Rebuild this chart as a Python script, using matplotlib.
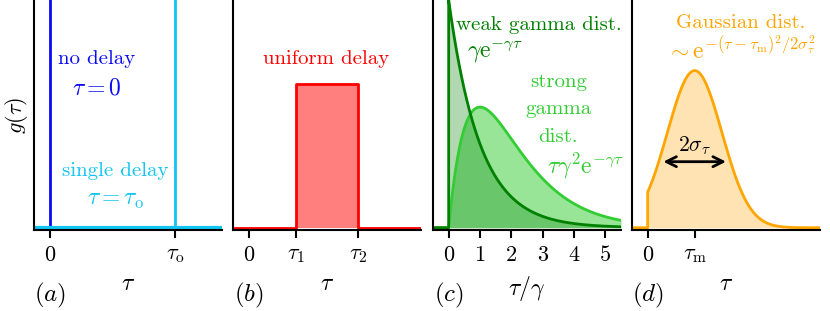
import numpy as np
import matplotlib.pyplot as plt

plt.rcParams['font.family'] = 'cmr10'
plt.rcParams['mathtext.fontset'] = 'cm'
plt.rcParams['axes.formatter.use_mathtext'] = True
plt.rcParams['font.size'] = 15

# x range shared by all panels (units of the tick spacing)
x_lo, x_hi = -0.5, 5.5

# (a) no delay / single delay
tau_o = 4.0
ticks_a = [0, tau_o]
ticklabels_a = ['$0$', r'$\tau_\mathrm{o}$']

# (b) uniform delay
tau_1, tau_2 = 1.5, 3.5
uniform_height = 0.63
ticks_b = [0, tau_1, tau_2]
ticklabels_b = ['$0$', r'$\tau_1$', r'$\tau_2$']

# (c) gamma distributions (curves follow the labelled formulas)
weak_scale = 1.0
strong_scale = 1.44
ticks_c = [0, 1, 2, 3, 4, 5]

# (d) gaussian
tau_m = 1.5
gauss_peak = 0.69
gauss_sigma = 0.87
arrow_half = 1.0
arrow_y = 0.29
ticks_d = [0, tau_m]
ticklabels_d = ['$0$', r'$\tau_\mathrm{m}$']

c_blue = '#0a0af5'
c_sky = '#10c4f4'
c_red = '#ff0000'
c_dgreen = '#008000'
c_lgreen = '#32cd32'
c_orange = '#ffa500'

MS = 17  # size for math text

fig = plt.figure(figsize=(8.3, 3.11), dpi=100)
lefts = [34, 233, 433, 632]
axes = [fig.add_axes([l / 830, 1 - 230 / 311, 188 / 830, 230 / 311]) for l in lefts]

for ax in axes:
    ax.set_xlim(x_lo, x_hi)
    ax.set_ylim(-0.01, 1.0)
    ax.set_yticks([])
    for s in ['top', 'right']:
        ax.spines[s].set_visible(False)
    for s in ['left', 'bottom']:
        ax.spines[s].set_linewidth(1.5)
    ax.tick_params(axis='x', direction='out', length=6, width=1.5, pad=5, labelsize=16)

lw = 2.0

# (a)
ax = axes[0]
ax.axvline(0, color=c_blue, lw=lw)
ax.axvline(tau_o, color=c_sky, lw=lw)
ax.plot([x_lo, x_hi], [0, 0], color=c_sky, lw=3)
ax.set_xticks(ticks_a)
ax.set_xticklabels(ticklabels_a)
ax.set_ylabel(r'$g(\tau)$', labelpad=3, fontsize=16)
ax.text(1.5, 0.74, 'no delay', color=c_blue, ha='center', va='center')
ax.text(1.5, 0.61, r'$\tau=0$', color=c_blue, ha='center', va='center', fontsize=MS)
ax.text(2.1, 0.25, 'single delay', color=c_sky, ha='center', va='center')
ax.text(2.1, 0.12, r'$\tau=\tau_\mathrm{o}$', color=c_sky, ha='center', va='center', fontsize=MS)

# (b)
ax = axes[1]
xb = [x_lo, tau_1, tau_1, tau_2, tau_2, x_hi]
yb = [0, 0, uniform_height, uniform_height, 0, 0]
ax.fill_between([tau_1, tau_2], 0, uniform_height, color=c_red, alpha=0.5, lw=0)
ax.plot(xb, yb, color=c_red, lw=lw)
ax.set_xticks(ticks_b)
ax.set_xticklabels(ticklabels_b)
ax.text(2.47, 0.74, 'uniform delay', color=c_red, ha='center', va='center')

# (c)
ax = axes[2]
xc = np.linspace(0, x_hi, 400)
weak = weak_scale * np.exp(-xc)
strong = strong_scale * xc * np.exp(-xc)
ax.fill_between(xc, 0, strong, color=c_lgreen, alpha=0.5, lw=0)
ax.fill_between(xc, 0, weak, color=c_dgreen, alpha=0.3, lw=0)
ax.plot(np.r_[x_lo, 0, xc], np.r_[0, 0, strong], color=c_lgreen, lw=lw)
ax.plot(np.r_[x_lo, 0, xc], np.r_[0, 0, weak], color=c_dgreen, lw=lw)
ax.set_xticks(ticks_c)
ax.set_xticklabels([f'${t}$' for t in ticks_c])
ax.text(2.88, 0.89, 'weak gamma dist.', color=c_dgreen, ha='center', va='center')
ax.text(1.46, 0.77, r'$\gamma\mathrm{e}^{-\gamma\tau}$', color=c_dgreen, ha='center', va='center', fontsize=MS)
ax.text(3.5, 0.64, 'strong', color=c_lgreen, ha='center', va='center')
ax.text(3.5, 0.52, 'gamma', color=c_lgreen, ha='center', va='center')
ax.text(3.5, 0.40, 'dist.', color=c_lgreen, ha='center', va='center')
ax.text(4.37, 0.27, r'$\tau\gamma^2\mathrm{e}^{-\gamma\tau}$', color=c_lgreen, ha='center', va='center', fontsize=MS)

# (d)
ax = axes[3]
xd = np.linspace(0, x_hi, 400)
gauss = gauss_peak * np.exp(-(xd - tau_m) ** 2 / (2 * gauss_sigma ** 2))
ax.fill_between(xd, 0, gauss, color=c_orange, alpha=0.3, lw=0)
ax.plot(np.r_[x_lo, 0, xd], np.r_[0, 0, gauss], color=c_orange, lw=lw)
ax.annotate('', xy=(tau_m - arrow_half, arrow_y), xytext=(tau_m + arrow_half, arrow_y),
            arrowprops=dict(arrowstyle='<->', color='black', lw=2, mutation_scale=18,
                            shrinkA=0, shrinkB=0))
ax.text(tau_m, 0.36, r'$2\sigma_\tau$', color='black', ha='center', va='center', fontsize=15.5)
ax.set_xticks(ticks_d)
ax.set_xticklabels(ticklabels_d)
ax.text(2.97, 0.90, 'Gaussian dist.', color=c_orange, ha='center', va='center')
ax.text(2.97, 0.78, r'$\sim\mathrm{e}^{-(\tau-\tau_\mathrm{m})^2/2\sigma_\tau^2}$',
        color=c_orange, ha='center', va='center', fontsize=MS)

xlabels = [r'$\tau$', r'$\tau$', r'$\tau/\gamma$', r'$\tau$']
panels = ['$(a)$', '$(b)$', '$(c)$', '$(d)$']
for ax, xl, pl in zip(axes, xlabels, panels):
    ax.set_xlabel(xl, labelpad=6, fontsize=MS)
    ax.text(0.085, -0.285, pl, transform=ax.transAxes, ha='center', va='center', fontsize=18)

fig.savefig('out.png', dpi=100)
